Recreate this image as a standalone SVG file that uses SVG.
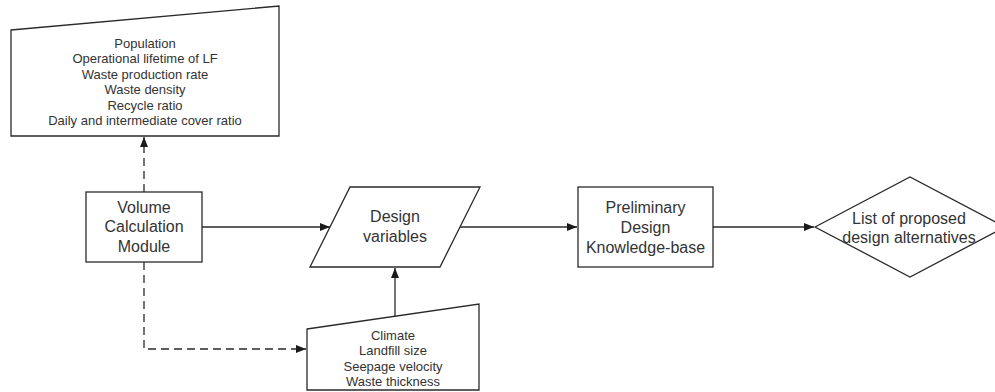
<svg xmlns="http://www.w3.org/2000/svg" width="995" height="392" viewBox="0 0 995 392">
  <style>
    .shape { fill: #ffffff; stroke: #2a2a2a; stroke-width: 1.3; }
    .edge { fill: none; stroke: #2a2a2a; stroke-width: 1.3; }
    .dashed { stroke-dasharray: 8 5; }
    .lbl { font-family: "Liberation Sans", Arial, sans-serif; fill: #333333; text-anchor: middle; }
    .big { font-size: 16px; }
    .small { font-size: 13px; }
  </style>
  <defs>
    <marker id="arrow" viewBox="0 0 10 8" refX="10" refY="4" markerWidth="10" markerHeight="8" markerUnits="userSpaceOnUse" orient="auto">
      <path d="M0,0 L10,4 L0,8 Z" fill="#1a1a1a"/>
    </marker>
  </defs>

  <rect width="995" height="392" fill="#ffffff"/>

  <!-- connectors -->
  <g id="connectors">
    <line class="edge dashed" x1="144" y1="192" x2="144" y2="137" marker-end="url(#arrow)"/>
    <polyline class="edge dashed" points="144,262 144,349 306,349" marker-end="url(#arrow)"/>
    <line class="edge" x1="202" y1="227" x2="330" y2="227" marker-end="url(#arrow)"/>
    <line class="edge" x1="395" y1="316" x2="395" y2="268" marker-end="url(#arrow)"/>
    <line class="edge" x1="460" y1="227" x2="577" y2="227" marker-end="url(#arrow)"/>
    <line class="edge" x1="713" y1="227" x2="814" y2="227" marker-end="url(#arrow)"/>
  </g>

  <!-- upper manual input: volume parameters -->
  <g id="volume-inputs">
    <polygon class="shape" points="11,30 279,6 279,136 11,136"/>
    <text class="lbl small" x="145" y="47.5">Population</text>
    <text class="lbl small" x="145" y="63">Operational lifetime of LF</text>
    <text class="lbl small" x="145" y="78.5">Waste production rate</text>
    <text class="lbl small" x="145" y="94">Waste density</text>
    <text class="lbl small" x="145" y="109.5">Recycle ratio</text>
    <text class="lbl small" x="145" y="125">Daily and intermediate cover ratio</text>
  </g>

  <!-- volume calculation module -->
  <g id="volume-module">
    <rect class="shape" x="86" y="192" width="116" height="70"/>
    <text class="lbl big" x="144" y="212.5">Volume</text>
    <text class="lbl big" x="144" y="232">Calculation</text>
    <text class="lbl big" x="144" y="251.5">Module</text>
  </g>

  <!-- design variables (data) -->
  <g id="design-variables">
    <polygon class="shape" points="350,187 480,187 440,267 310,267"/>
    <text class="lbl big" x="395" y="222">Design</text>
    <text class="lbl big" x="395" y="241.5">variables</text>
  </g>

  <!-- lower manual input: site parameters -->
  <g id="site-inputs">
    <polygon class="shape" points="307,329 479,304 479,390 307,390"/>
    <text class="lbl small" x="393" y="339.5">Climate</text>
    <text class="lbl small" x="393" y="355">Landfill size</text>
    <text class="lbl small" x="393" y="370.5">Seepage velocity</text>
    <text class="lbl small" x="393" y="386">Waste thickness</text>
  </g>

  <!-- knowledge base -->
  <g id="knowledge-base">
    <rect class="shape" x="578" y="187" width="135" height="80"/>
    <text class="lbl big" x="645.5" y="213">Preliminary</text>
    <text class="lbl big" x="645.5" y="233">Design</text>
    <text class="lbl big" x="645.5" y="253">Knowledge-base</text>
  </g>

  <!-- result -->
  <g id="design-alternatives">
    <polygon class="shape" points="815,227 910,177 1005,227 910,277"/>
    <text class="lbl big" x="909" y="223.5">List of proposed</text>
    <text class="lbl big" x="909" y="243">design alternatives</text>
  </g>
</svg>
